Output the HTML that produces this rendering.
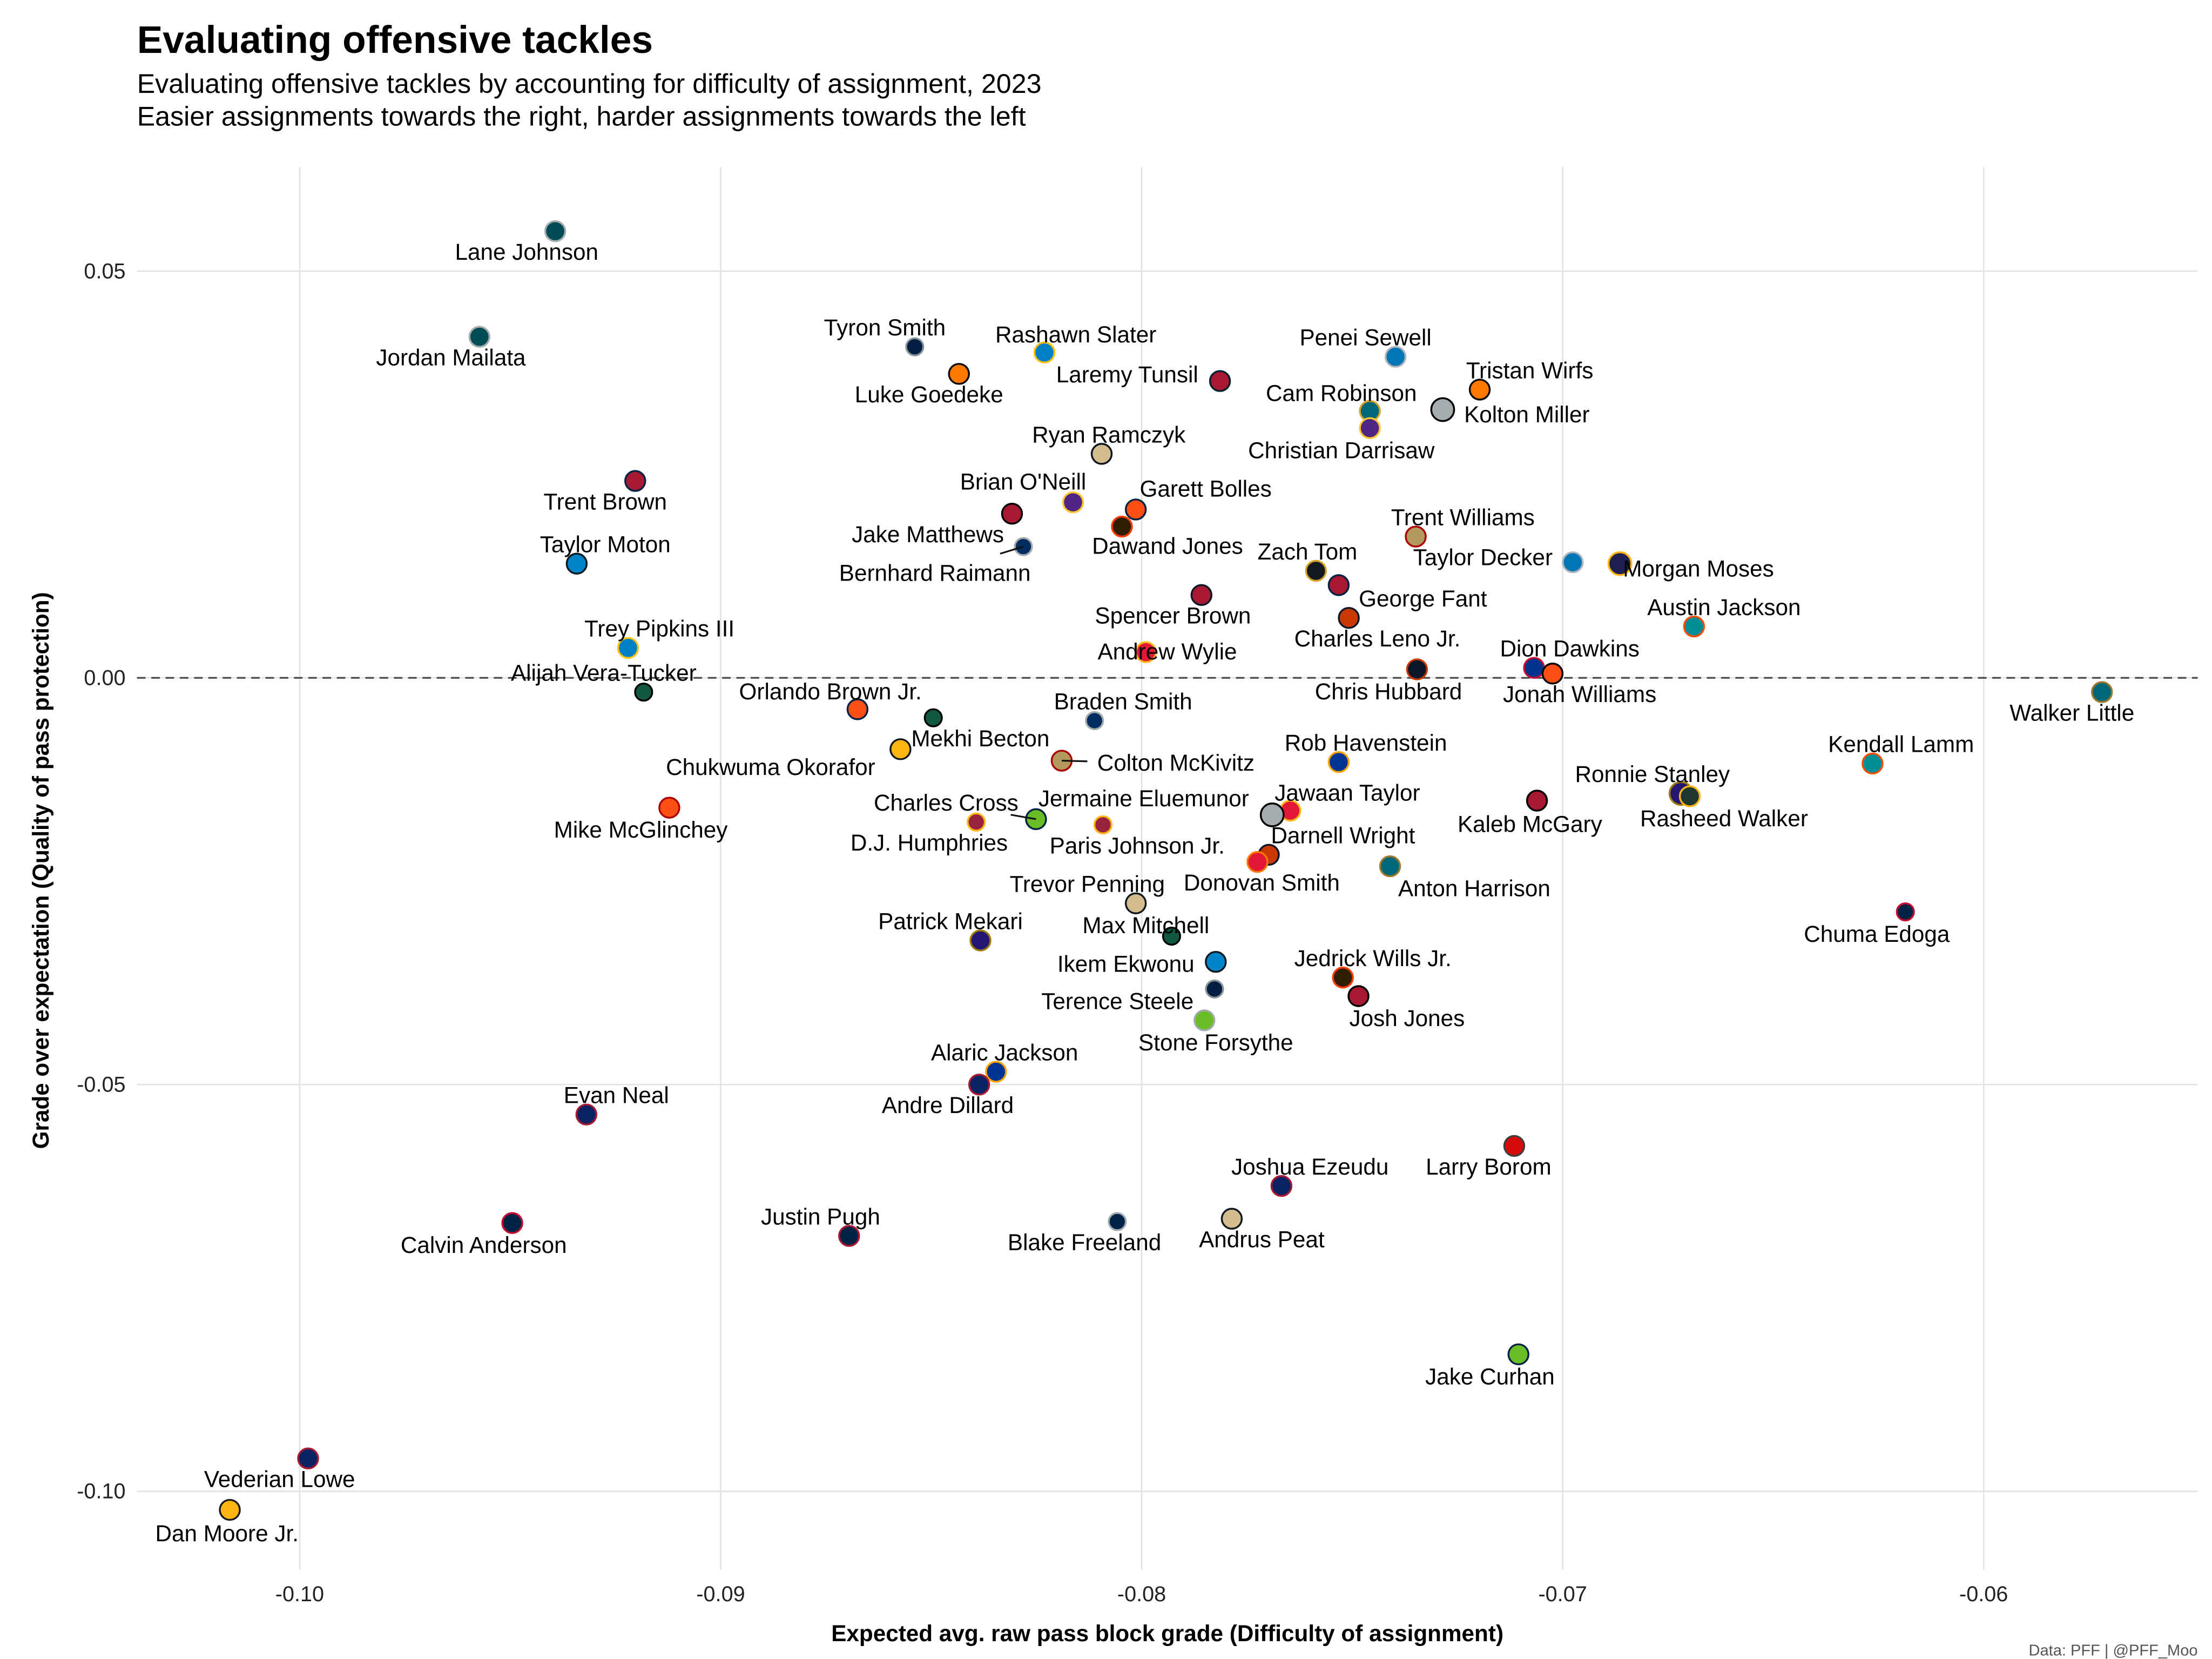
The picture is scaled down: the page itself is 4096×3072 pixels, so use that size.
<!DOCTYPE html>
<html><head><meta charset="utf-8"><style>
html,body{margin:0;padding:0;background:#fff;}
svg{display:block;font-family:"Liberation Sans",Arial,sans-serif;}
</style></head><body>
<svg id="chart" width="4096" height="3072" viewBox="0 0 1550 1162.5" preserveAspectRatio="none" xmlns="http://www.w3.org/2000/svg">
<rect x="0" y="0" width="1550" height="1162.5" fill="#fff"/>
<text x="96" y="37" font-size="27" font-weight="bold" fill="#000">Evaluating offensive tackles</text>
<text x="96" y="65" font-size="19" fill="#000">Evaluating offensive tackles by accounting for difficulty of assignment, 2023</text>
<text x="96" y="88" font-size="19" fill="#000">Easier assignments towards the right, harder assignments towards the left</text>
<g id="grid"></g>
<g id="marks"></g>
<g id="labels"></g>
<text x="818" y="1150" font-size="16" font-weight="bold" text-anchor="middle" fill="#000">Expected avg. raw pass block grade (Difficulty of assignment)</text>
<text transform="translate(34,610) rotate(-90)" font-size="16" font-weight="bold" text-anchor="middle" fill="#000">Grade over expectation (Quality of pass protection)</text>
<text x="1540" y="1163" dy="-3" font-size="11" text-anchor="end" fill="#555">Data: PFF | @PFF_Moo</text>
</svg>
<script>
const xTicks = [-0.10, -0.09, -0.08, -0.07, -0.06];
const xTickLabels = ["-0.10", "-0.09", "-0.08", "-0.07", "-0.06"];
const yTicks = [0.05, 0.00, -0.05, -0.10];
const yTickLabels = ["0.05", "0.00", "-0.05", "-0.10"];
const players = ["Lane Johnson","Jordan Mailata","Tyron Smith","Rashawn Slater","Luke Goedeke","Laremy Tunsil","Penei Sewell","Tristan Wirfs","Cam Robinson","Kolton Miller","Christian Darrisaw","Ryan Ramczyk","Trent Brown","Jake Matthews","Brian O'Neill","Garett Bolles","Dawand Jones","Bernhard Raimann","Trent Williams","Taylor Decker","Morgan Moses","Taylor Moton","Zach Tom","George Fant","Spencer Brown","Charles Leno Jr.","Austin Jackson","Trey Pipkins III","Andrew Wylie","Chris Hubbard","Dion Dawkins","Jonah Williams","Walker Little","Alijah Vera-Tucker","Orlando Brown Jr.","Mekhi Becton","Braden Smith","Chukwuma Okorafor","Colton McKivitz","Rob Havenstein","Kendall Lamm","Ronnie Stanley","Rasheed Walker","Jawaan Taylor","Kaleb McGary","Mike McGlinchey","Charles Cross","Jermaine Eluemunor","D.J. Humphries","Paris Johnson Jr.","Darnell Wright","Donovan Smith","Anton Harrison","Trevor Penning","Chuma Edoga","Max Mitchell","Patrick Mekari","Ikem Ekwonu","Jedrick Wills Jr.","Terence Steele","Josh Jones","Stone Forsythe","Alaric Jackson","Andre Dillard","Evan Neal","Larry Borom","Joshua Ezeudu","Calvin Anderson","Blake Freeland","Andrus Peat","Justin Pugh","Jake Curhan","Vederian Lowe","Dan Moore Jr."];
const expectedGrade = [-0.09393,-0.09573,-0.08539,-0.08231,-0.08434,-0.07814,-0.07397,-0.07197,-0.07458,-0.07285,-0.07458,-0.08095,-0.09203,-0.08308,-0.08163,-0.08014,-0.08047,-0.08281,-0.07349,-0.06976,-0.06864,-0.09342,-0.07586,-0.07532,-0.07858,-0.07508,-0.06688,-0.0922,-0.0799,-0.07346,-0.07068,-0.07024,-0.05719,-0.09183,-0.08675,-0.08495,-0.08112,-0.08573,-0.0819,-0.07532,-0.06264,-0.06719,-0.06698,-0.07647,-0.07061,-0.09122,-0.08251,-0.0769,-0.08393,-0.08092,-0.07698,-0.07725,-0.0741,-0.08014,-0.06186,-0.07929,-0.08383,-0.07824,-0.07522,-0.07827,-0.07485,-0.07851,-0.08346,-0.08386,-0.09319,-0.07115,-0.07668,-0.09495,-0.08058,-0.07786,-0.08695,-0.07105,-0.0998,-0.10166];
const gradeOverExp = [0.05491,0.04193,0.0407,0.04,0.03737,0.03649,0.03947,0.03544,0.03281,0.03298,0.0307,0.02754,0.02421,0.02018,0.02158,0.0207,0.0186,0.01614,0.01737,0.01421,0.01404,0.01404,0.01316,0.0114,0.01018,0.00737,0.00632,0.00368,0.00316,0.00105,0.00123,0.00053,-0.00175,-0.00175,-0.00386,-0.00491,-0.00526,-0.00877,-0.01018,-0.01035,-0.01053,-0.01421,-0.01456,-0.01632,-0.01509,-0.01596,-0.01737,-0.01684,-0.01772,-0.01807,-0.02175,-0.02263,-0.02316,-0.02772,-0.02877,-0.03175,-0.03228,-0.03491,-0.03684,-0.03825,-0.03912,-0.0421,-0.04842,-0.05,-0.05368,-0.05754,-0.06246,-0.06702,-0.06684,-0.06649,-0.0686,-0.08316,-0.09596,-0.10228];
const fills = ["#004C54","#004C54","#041E42","#0080C6","#FF7900","#A71930","#0076B6","#FF7900","#006778","#A5ACAF","#4F2683","#D3BC8D","#A71930","#A71930","#4F2683","#FB4F14","#311D00","#002C5F","#B3995D","#0076B6","#202050","#0085CA","#101820","#A71930","#A71930","#C83803","#008E97","#0080C6","#E31837","#0B162A","#00338D","#FB4F14","#006778","#125740","#FB4F14","#125740","#002C5F","#FFB612","#B3995D","#003594","#008E97","#241773","#203731","#E31837","#A71930","#FB4F14","#69BE28","#A5ACAF","#97233F","#97233F","#C83803","#E31837","#006778","#D3BC8D","#002244","#125740","#241773","#0085CA","#311D00","#041E42","#A71930","#69BE28","#003594","#0B2265","#0B2265","#D50A0A","#0B2265","#002244","#002244","#D3BC8D","#002244","#69BE28","#0B2265","#FFB612"];
const strokes = ["#A5ACAF","#A5ACAF","#869397","#FFC20E","#0A0A08","#03202F","#B0B7BC","#0A0A08","#D7A22A","#000000","#FFC62F","#101820","#002244","#000000","#FFC62F","#002244","#FF3C00","#A2AAAD","#AA0000","#B0B7BC","#FFB612","#101820","#D7A22A","#002244","#0B162A","#0B162A","#FC4C02","#FFC20E","#FFB81C","#C83803","#C60C30","#000000","#9F792C","#000000","#002244","#000000","#A2AAAD","#101820","#AA0000","#FFA300","#FC4C02","#9E7C0C","#FFB612","#FFB81C","#000000","#AA0000","#002244","#000000","#FFB612","#FFB612","#0B162A","#FF7900","#9F792C","#101820","#C60C30","#000000","#9E7C0C","#101820","#FF3C00","#869397","#000000","#A5ACAF","#FFA300","#A71930","#A71930","#3F3F3F","#A71930","#C60C30","#A2AAAD","#101820","#A71930","#002244","#A71930","#1A1A1A"];
const sizes = [7,7,6,7,7,7,7,7,7,8,7,7,7,7,7,7,7,6,7,7,8,7,7,7,7,7,7,7,7,7,7,7,7,6,7,6,6,7,7,7,7,8,7,7,7,7,7,8,6,6,7,7,7,7,6,6,7,7,7,6,7,7,7,7,7,7,7,7,6,7,7,7,7,7];
const labelDx = [-20,-20,-21,22,-21,-65,-21,35,-20,59,-20,5,-21,-59,-35,49,32,-62,33,-63,55,20,-6,59,-20,20,21,22,15,-20,25,19,-21,-28,-19,33,20,-91,80,19,20,-20,24,40,-5,-20,-63,-90,-33,24,52,3,59,-34,-20,-18,-21,-63,21,-68,34,8,6,-22,21,-18,20,-20,-23,21,-20,-20,-20,-2];
const labelDy = [15,15,-13,-12,15,-4,-13,-13,-12,4,16,-13,15,15,-14,-14,14,19,-13,-3,4,-13,-13,10,15,15,-13,-13,0,16,-13,15,15,-13,-12,15,-13,13,2,-13,-13,-13,16,-12,17,16,-11,-11,15,15,-13,15,16,-13,16,-7,-13,2,-13,9,16,16,-13,15,-13,15,-13,16,15,15,-13,16,15,17];
const leaderIdx = [17, 38, 46];
const leaderLen = [17, 18, 18];

const X0 = 210, XS = 29500, Y0 = 475, YS = 5700;
function xScale(v){ return X0 + (v - (-0.10)) * XS; }
function yScale(v){ return Y0 - v * YS; }
const NS = "http://www.w3.org/2000/svg";
const grid = document.getElementById('grid');
const marks = document.getElementById('marks');
const labels = document.getElementById('labels');
const PL = 96, PR = 1540, PT = 117, PB = 1100;

xTicks.forEach((t,i)=>{
  const x = xScale(t);
  const l = document.createElementNS(NS,'line');
  l.setAttribute('x1',x); l.setAttribute('x2',x); l.setAttribute('y1',PT); l.setAttribute('y2',PB);
  l.setAttribute('stroke','#e3e3e3'); l.setAttribute('stroke-width','1');
  
  
  grid.appendChild(l);
  const tx = document.createElementNS(NS,'text');
  tx.setAttribute('x',x); tx.setAttribute('y',1122); tx.setAttribute('text-anchor','middle');
  tx.setAttribute('font-size','15'); tx.setAttribute('fill','#222');
  tx.textContent = xTickLabels[i];
  
  
  grid.appendChild(tx);
});
yTicks.forEach((t,i)=>{
  const y = yScale(t);
  const l = document.createElementNS(NS,'line');
  l.setAttribute('x1',PL); l.setAttribute('x2',PR); l.setAttribute('y1',y); l.setAttribute('y2',y);
  l.setAttribute('stroke','#e3e3e3'); l.setAttribute('stroke-width','1');
  
  
  grid.appendChild(l);
  const tx = document.createElementNS(NS,'text');
  tx.setAttribute('x',88); tx.setAttribute('y',y+5); tx.setAttribute('text-anchor','end');
  tx.setAttribute('font-size','15'); tx.setAttribute('fill','#222');
  tx.textContent = yTickLabels[i];
  
  
  grid.appendChild(tx);
});
const zl = document.createElementNS(NS,'line');
zl.setAttribute('x1',PL); zl.setAttribute('x2',PR); zl.setAttribute('y1',yScale(0)); zl.setAttribute('y2',yScale(0));
zl.setAttribute('stroke','#444'); zl.setAttribute('stroke-width','1.2'); zl.setAttribute('stroke-dasharray','6,4');


grid.appendChild(zl);

players.forEach((p,i)=>{
  const cx = xScale(expectedGrade[i]), cy = yScale(gradeOverExp[i]);
  const lx = cx + labelDx[i], ly = cy + labelDy[i];
  const li = leaderIdx.indexOf(i);
  if (li >= 0) {
    const d = Math.hypot(labelDx[i], labelDy[i]);
    const ln = document.createElementNS(NS,'line');
    ln.setAttribute('x1',cx); ln.setAttribute('y1',cy);
    ln.setAttribute('x2',cx + labelDx[i]/d*leaderLen[li]); ln.setAttribute('y2',cy + labelDy[i]/d*leaderLen[li]);
    ln.setAttribute('stroke','#111'); ln.setAttribute('stroke-width','1.2');
    
    
    labels.appendChild(ln);
  }
  const c = document.createElementNS(NS,'circle');
  c.setAttribute('cx',cx); c.setAttribute('cy',cy); c.setAttribute('r',sizes[i]);
  c.setAttribute('fill',fills[i]); c.setAttribute('stroke',strokes[i]); c.setAttribute('stroke-width','1.3');
  
  
  marks.appendChild(c);
  const t = document.createElementNS(NS,'text');
  t.setAttribute('x',lx); t.setAttribute('y',ly+5); t.setAttribute('text-anchor','middle');
  t.setAttribute('font-size','16'); t.setAttribute('fill','#000');
  t.textContent = p;
  
  
  labels.appendChild(t);
});
</script>
</body></html>
